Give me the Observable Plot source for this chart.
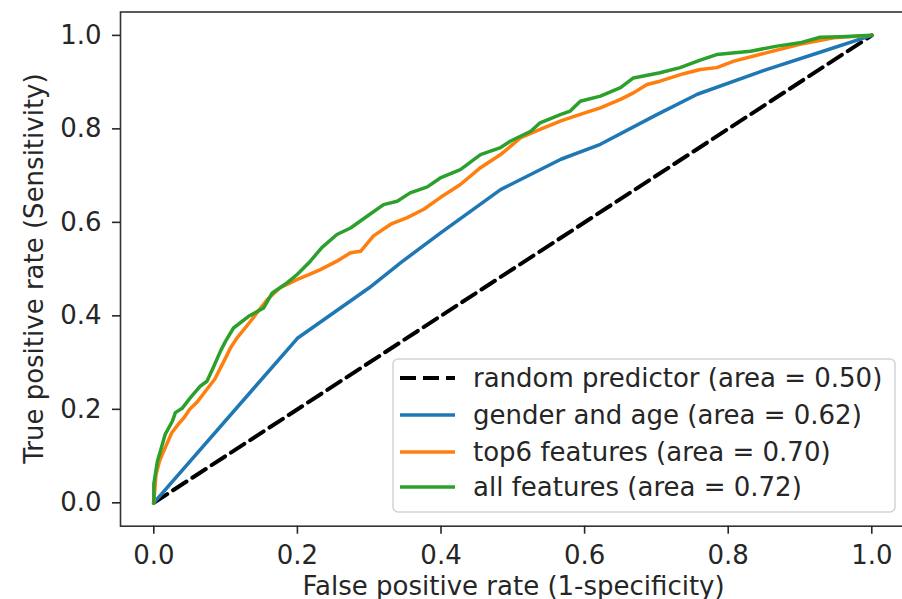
<!DOCTYPE html>
<html>
<head>
<meta charset="utf-8">
<script src="https://cdn.jsdelivr.net/npm/d3@7"></script>
<script src="https://cdn.jsdelivr.net/npm/@observablehq/plot@0.6"></script>
<style>
  html, body { margin: 0; padding: 0; background: #fff; overflow: hidden; }
  #wrap { position: relative; width: 902px; height: 599px; }
  #legend { position: absolute; left: 392px; top: 358px; }
</style>
</head>
<body>
<div id="wrap"></div>
<script>
// ---- data ----
const xTicks = [0, 0.2, 0.4, 0.6, 0.8, 1.0];
const yTicks = [0, 0.2, 0.4, 0.6, 0.8, 1.0];

const seriesNames = [
  "random predictor (area = 0.50)",
  "gender and age (area = 0.62)",
  "top6 features (area = 0.70)",
  "all features (area = 0.72)"
];
const seriesColors = ["#000000", "#1f77b4", "#ff7f0e", "#2ca02c"];

const randomFpr = [0, 1];
const randomTpr = [0, 1];

const genderAgeFpr = [0, 0.2, 0.3, 0.344, 0.4, 0.483, 0.567, 0.622, 0.7, 0.757, 0.85, 0.93, 1.0];
const genderAgeTpr = [0, 0.352, 0.46, 0.514, 0.578, 0.67, 0.735, 0.767, 0.83, 0.874, 0.925, 0.965, 1.0];

const top6Fpr = [0, 0.003, 0.008, 0.015, 0.025, 0.035, 0.042, 0.05, 0.06, 0.07, 0.085, 0.1, 0.107, 0.116, 0.135, 0.158, 0.176, 0.2, 0.216, 0.232, 0.255, 0.274, 0.288, 0.306, 0.33, 0.353, 0.376, 0.399, 0.427, 0.455, 0.483, 0.511, 0.538, 0.567, 0.594, 0.622, 0.65, 0.668, 0.687, 0.705, 0.738, 0.761, 0.784, 0.808, 0.854, 0.9, 0.947, 1.0];
const top6Tpr = [0, 0.06, 0.09, 0.115, 0.15, 0.17, 0.182, 0.2, 0.215, 0.235, 0.265, 0.31, 0.332, 0.353, 0.389, 0.435, 0.46, 0.478, 0.488, 0.499, 0.517, 0.535, 0.538, 0.571, 0.596, 0.61, 0.628, 0.653, 0.681, 0.717, 0.745, 0.781, 0.799, 0.817, 0.831, 0.845, 0.863, 0.877, 0.895, 0.902, 0.918, 0.927, 0.931, 0.945, 0.963, 0.981, 0.995, 1.0];

const allFpr = [0, 0, 0.005, 0.009, 0.016, 0.026, 0.030, 0.04, 0.051, 0.065, 0.074, 0.083, 0.093, 0.1, 0.111, 0.132, 0.153, 0.165, 0.186, 0.2, 0.218, 0.234, 0.255, 0.274, 0.297, 0.32, 0.339, 0.357, 0.381, 0.399, 0.427, 0.455, 0.483, 0.497, 0.525, 0.538, 0.567, 0.58, 0.594, 0.622, 0.65, 0.668, 0.705, 0.733, 0.761, 0.784, 0.831, 0.868, 0.9, 0.928, 0.956, 1.0];
const allTpr = [0, 0.04, 0.089, 0.11, 0.147, 0.175, 0.193, 0.203, 0.225, 0.25, 0.26, 0.29, 0.325, 0.346, 0.374, 0.399, 0.417, 0.449, 0.471, 0.489, 0.517, 0.546, 0.574, 0.588, 0.613, 0.638, 0.645, 0.663, 0.676, 0.695, 0.713, 0.745, 0.76, 0.774, 0.795, 0.813, 0.831, 0.838, 0.859, 0.87, 0.888, 0.909, 0.92, 0.931, 0.947, 0.959, 0.966, 0.977, 0.984, 0.996, 0.997, 1.0];

const xLabel = "False positive rate (1-specificity)";
const yLabel = "True positive rate (Sensitivity)";

// ---- build tables ----
const toRows = (xs, ys) => xs.map((x, i) => ({x, y: ys[i]}));
const randomRows = toRows(randomFpr, randomTpr);
const gaRows = toRows(genderAgeFpr, genderAgeTpr);
const top6Rows = toRows(top6Fpr, top6Tpr);
const allRows = toRows(allFpr, allTpr);

const W = 902, H = 599;
const mL = 120, mT = 11.5, mB = 73.3, mR = -5.2;
const FS = 26;

const chart = Plot.plot({
  width: W,
  height: H,
  marginLeft: mL,
  marginRight: mR,
  marginTop: mT,
  marginBottom: mB,
  style: {fontFamily: "DejaVu Sans, sans-serif", fontSize: FS + "px", color: "#262626", background: "white", overflow: "hidden"},
  x: {domain: [-0.0464, 1.05]},
  y: {domain: [-0.05, 1.05]},
  marks: [
    Plot.line(randomRows, {x: "x", y: "y", stroke: seriesColors[0], strokeWidth: 4, strokeDasharray: "16,7"}),
    Plot.line(gaRows, {x: "x", y: "y", stroke: seriesColors[1], strokeWidth: 3.5, strokeLinejoin: "round"}),
    Plot.line(top6Rows, {x: "x", y: "y", stroke: seriesColors[2], strokeWidth: 3.5, strokeLinejoin: "round"}),
    Plot.line(allRows, {x: "x", y: "y", stroke: seriesColors[3], strokeWidth: 3.5, strokeLinejoin: "round"}),
    Plot.frame({stroke: "#333", strokeWidth: 1.6}),
    Plot.axisX(xTicks, {tickSize: 8, tickPadding: 11, strokeWidth: 1.6, tickFormat: d => d.toFixed(1), label: null}),
    Plot.axisY(yTicks, {tickSize: 8, tickPadding: 11, strokeWidth: 1.6, tickFormat: d => d.toFixed(1), label: null})
  ]
});

const wrap = document.getElementById("wrap");
wrap.appendChild(chart);

// ---- axis titles ----
const svg = d3.select(chart.tagName.toLowerCase() === "svg" ? chart : chart.querySelector("svg"));
const frameCx = (mL + (W - mR)) / 2;
const frameCy = (mT + (H - mB)) / 2;
svg.append("text")
  .attr("x", frameCx).attr("y", 595)
  .attr("text-anchor", "middle")
  .attr("fill", "#262626")
  .style("font-size", FS + "px")
  .text(xLabel);
svg.append("text")
  .attr("transform", `translate(43,${frameCy}) rotate(-90)`)
  .attr("text-anchor", "middle")
  .attr("fill", "#262626")
  .style("font-size", FS + "px")
  .text(yLabel);

// ---- legend (inside the axes, lower right) ----
const lg = d3.select(wrap).append("svg")
  .attr("id", "legend")
  .attr("width", 506)
  .attr("height", 157)
  .style("font-family", "DejaVu Sans, sans-serif")
  .style("font-size", FS + "px");
lg.append("rect")
  .attr("x", 1).attr("y", 1).attr("width", 502).attr("height", 153)
  .attr("rx", 5)
  .attr("fill", "white").attr("fill-opacity", 0.85)
  .attr("stroke", "#d3d3d3").attr("stroke-width", 1.5);
const rowY = [20, 57, 94, 129];
seriesNames.forEach((name, i) => {
  lg.append("line")
    .attr("x1", 8).attr("x2", 63)
    .attr("y1", rowY[i]).attr("y2", rowY[i])
    .attr("stroke", seriesColors[i])
    .attr("stroke-width", i === 0 ? 4 : 3.5)
    .attr("stroke-dasharray", i === 0 ? "16,7" : null);
  lg.append("text")
    .attr("x", 81).attr("y", rowY[i])
    .attr("dy", "0.35em")
    .attr("fill", "#262626")
    .text(name);
});
</script>
</body>
</html>
